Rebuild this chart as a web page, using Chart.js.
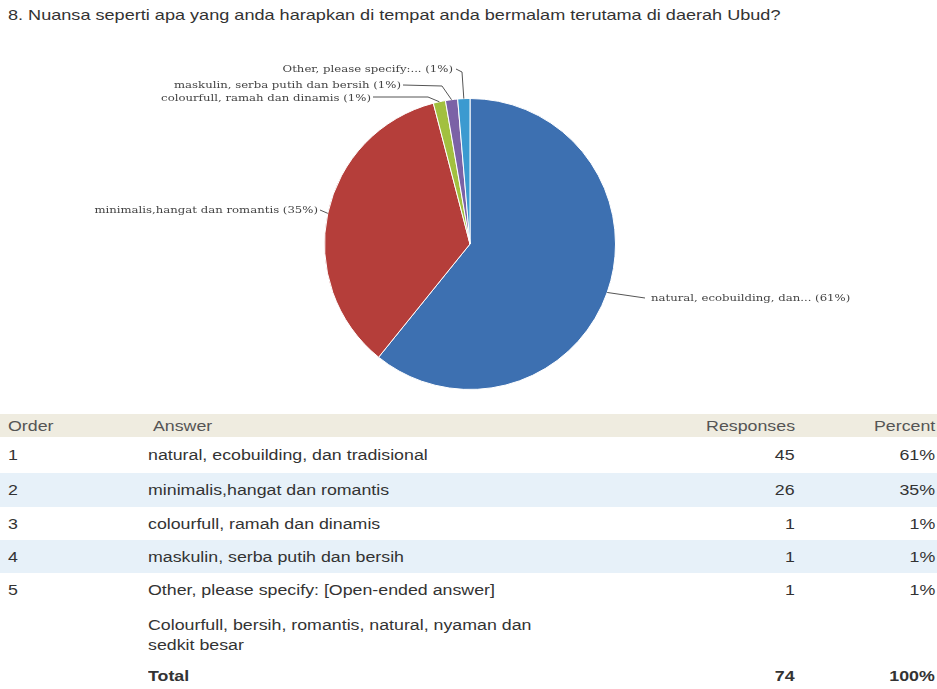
<!DOCTYPE html>
<html>
<head>
<meta charset="utf-8">
<script src="https://cdn.jsdelivr.net/npm/chart.js@4"></script>
<style>
  body { margin: 0; width: 937px; height: 689px; background: #fff; position: relative; overflow: hidden; font-family: "Liberation Sans", Arial, sans-serif; color: #333; }
  #title { position: absolute; left: 8px; top: 6px; font-size: 15px; white-space: nowrap; transform-origin: 0 0; }
  #pie_box { position: absolute; left: 0; top: 0; }
  #result { position: absolute; left: 0; top: 414px; width: 937px; border-collapse: collapse; font-size: 14px; }
  #result td { padding: 0; vertical-align: middle; }
  #result .head td { background: #efece0; height: 23px; color: #555; }
  #result .stripe td { background: #e7f1f9; }
  .s { display: inline-block; white-space: nowrap; transform: scaleX(1.27); transform-origin: 0 50%; }
  .c3 .s, .c4 .s { transform-origin: 100% 50%; }
  .c1 { width: 140px; padding-left: 8px !important; }
  .c3 { width: 120px; text-align: right; padding-right: 0 !important; }
  .c4 { width: 140px; text-align: right; padding-right: 2px !important; }
</style>
</head>
<body>
<div id="title">8. Nuansa seperti apa yang anda harapkan di tempat anda bermalam terutama di daerah Ubud?</div>
<canvas id="pie_box" width="937" height="400"></canvas>
<table id="result"></table>
<script>
const orders = [1, 2, 3, 4, 5];
const answers = [
  "natural, ecobuilding, dan tradisional",
  "minimalis,hangat dan romantis",
  "colourfull, ramah dan dinamis",
  "maskulin, serba putih dan bersih",
  "Other, please specify: [Open-ended answer]",
];
const pieLabels = [
  "natural, ecobuilding, dan...",
  "minimalis,hangat dan romantis",
  "colourfull, ramah dan dinamis",
  "maskulin, serba putih dan bersih",
  "Other, please specify:...",
];
const responses = [45, 26, 1, 1, 1];
const percents = ["61%", "35%", "1%", "1%", "1%"];
const otherText = ["Colourfull, bersih, romantis, natural, nyaman dan", "sedkit besar"];
const total = 74;
const totalPercent = "100%";

const colors = ["#3d70b1", "#b53e3a", "#a2c03f", "#7b62a6", "#3b9ad0"];

// stretch title to the width in the picture
const title = document.getElementById("title");
title.style.transform = "scaleX(" + (772 / title.offsetWidth) + ")";

// table
const table = document.getElementById("result");
function addRow(cls, cells, height) {
  const tr = document.createElement("tr");
  if (cls) tr.className = cls;
  cells.forEach(function (text, i) {
    const td = document.createElement("td");
    td.className = "c" + (i + 1);
    if (text !== "") td.innerHTML = '<span class="s">' + text + "</span>";
    if (height) td.style.height = height + "px";
    tr.appendChild(td);
  });
  table.appendChild(tr);
}
addRow("head", ["Order", "&nbsp;Answer", "Responses", "Percent"]);
const rowHeights = [36, 34, 33, 33, 34];
for (let i = 0; i < orders.length; i++) {
  addRow(i % 2 === 1 ? "stripe" : "", [orders[i], answers[i], responses[i], percents[i]], rowHeights[i]);
}
addRow("", ["", '<span style="display:block;line-height:20px;font-size:14px">' + otherText.join("<br>") + "</span>", "", ""], 55);
addRow("", ["", "<b>Total</b>", "<b>" + total + "</b>", "<b>" + totalPercent + "</b>"], 27);

// leader lines and labels next to slices
const leaderLines = {
  id: "leaderLines",
  afterDatasetsDraw(chart) {
    const ctx = chart.ctx;
    const arcs = chart.getDatasetMeta(0).data;
    const paths = [
      { pts: [[645, 298]], tx: 651, ty: 298, align: "left" },
      { pts: [[320, 210]], tx: 318, ty: 210, align: "right" },
      { pts: [[428, 97], [373, 97]], tx: 371, ty: 98, align: "right" },
      { pts: [[442, 86], [403, 85]], tx: 401, ty: 85, align: "right" },
      { pts: [[462, 72], [456, 69]], tx: 453, ty: 69, align: "right" },
    ];
    const stretch = 1.17;
    ctx.save();
    ctx.strokeStyle = "#555";
    ctx.lineWidth = 1;
    arcs.forEach(function (arc, i) {
      const p = arc.getProps(["x", "y", "startAngle", "endAngle", "outerRadius"], true);
      const mid = (p.startAngle + p.endAngle) / 2;
      const ex = p.x + Math.cos(mid) * p.outerRadius;
      const ey = p.y + Math.sin(mid) * p.outerRadius;
      const path = paths[i];
      ctx.beginPath();
      ctx.moveTo(ex, ey);
      path.pts.forEach(function (pt) { ctx.lineTo(pt[0], pt[1]); });
      ctx.stroke();
      ctx.save();
      ctx.fillStyle = "#444";
      ctx.font = "10px 'DejaVu Serif'";
      ctx.textBaseline = "middle";
      ctx.textAlign = path.align;
      ctx.translate(path.tx, path.ty);
      ctx.scale(stretch, 1);
      ctx.fillText(pieLabels[i] + " (" + percents[i] + ")", 0, 0);
      ctx.restore();
    });
    ctx.restore();
  },
};

new Chart(document.getElementById("pie_box"), {
  type: "pie",
  data: {
    labels: pieLabels,
    datasets: [
      {
        data: responses,
        backgroundColor: colors,
        borderColor: "#ffffff",
        borderWidth: 1,
      },
    ],
  },
  options: {
    responsive: false,
    animation: false,
    layout: { padding: { top: 98, bottom: 10, left: 324, right: 321 } },
    plugins: {
      legend: { display: false },
      tooltip: { enabled: false },
    },
  },
  plugins: [leaderLines],
});
</script>
</body>
</html>
